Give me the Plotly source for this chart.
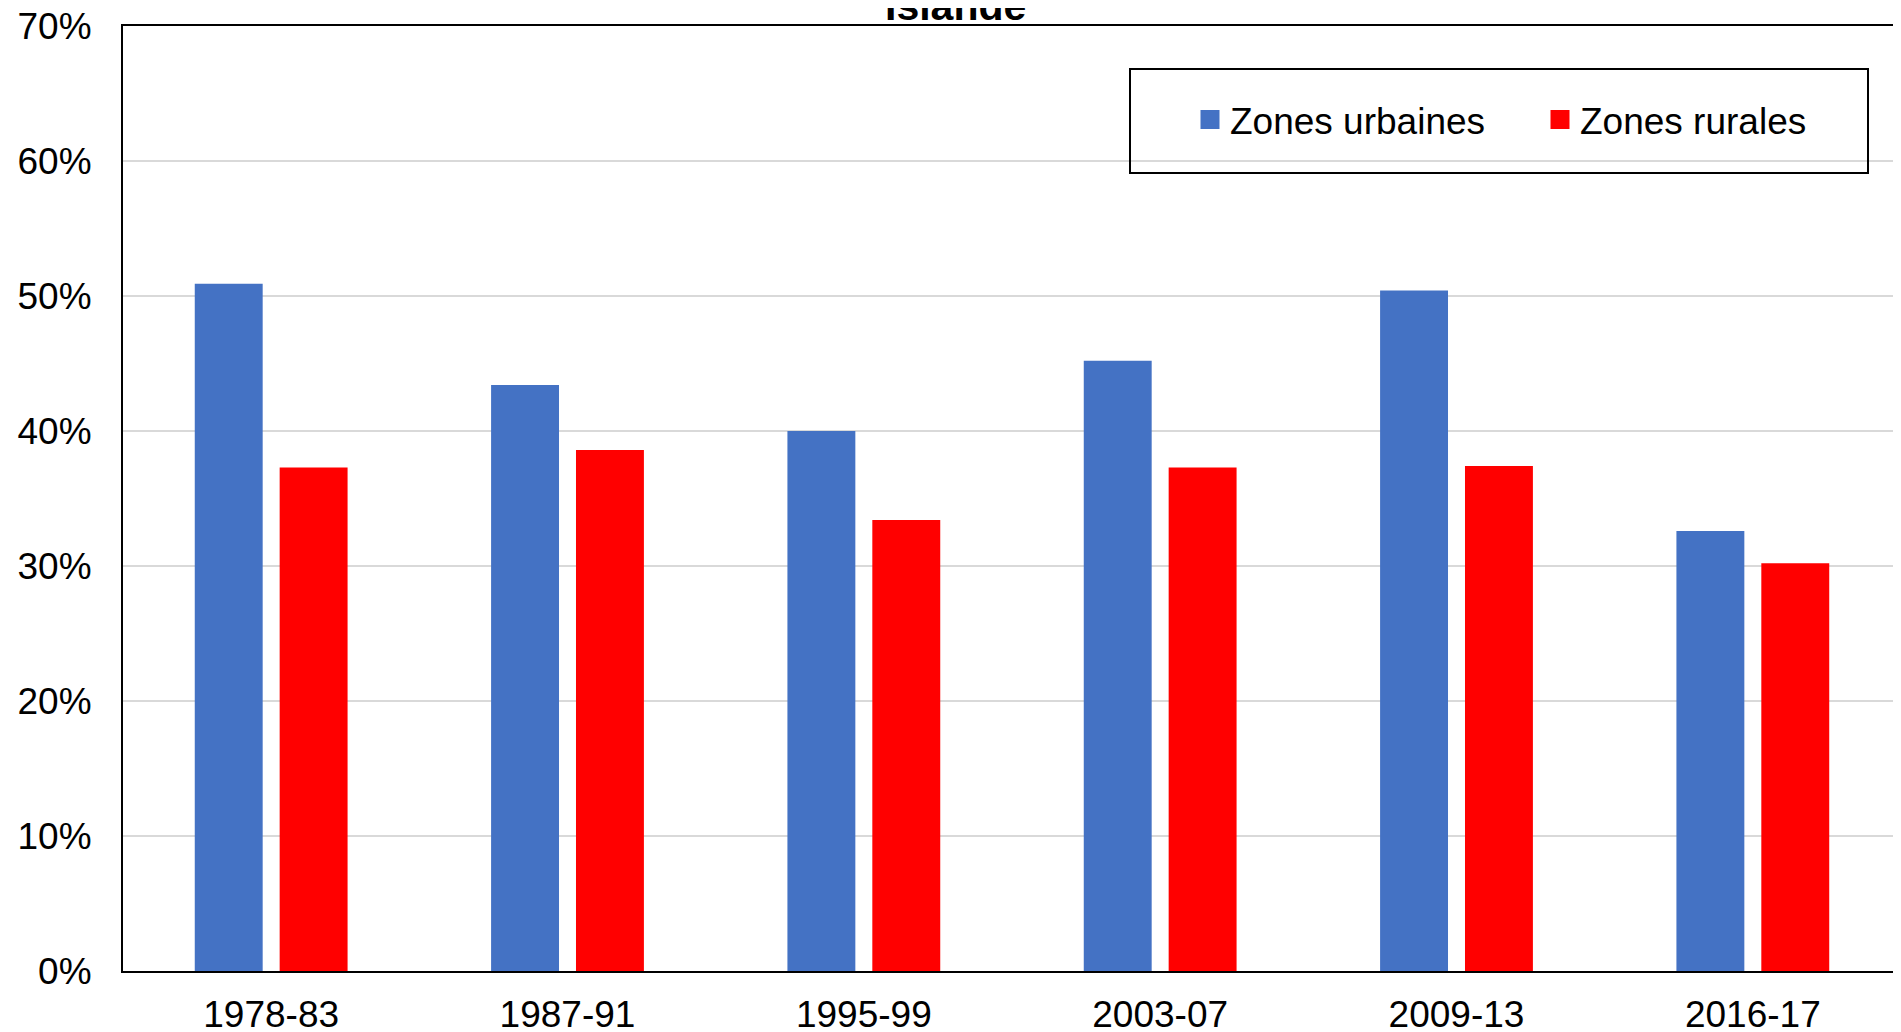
import plotly.graph_objects as go

categories = ["1978-83", "1987-91", "1995-99", "2003-07", "2009-13", "2016-17"]
urbaines = [0.509, 0.434, 0.400, 0.452, 0.504, 0.326]
rurales = [0.373, 0.386, 0.334, 0.373, 0.374, 0.302]
series_names = ["Zones urbaines", "Zones rurales"]
colors = ["#4472C4", "#FF0000"]
y_ticks = [0, 0.1, 0.2, 0.3, 0.4, 0.5, 0.6, 0.7]
title_text = "Islande"

FONT = "Liberation Sans, Arial, sans-serif"

fig = go.Figure()
for name, vals, col in zip(series_names, [urbaines, rurales], colors):
    fig.add_trace(go.Bar(x=categories, y=vals, name=name, marker_color=col,
                         marker_line_width=0, showlegend=False))
for name, col in zip(series_names, colors):
    fig.add_trace(go.Scatter(x=[categories[0]], y=[None], mode="markers", name=name,
                             marker=dict(symbol="square", size=16, color=col,
                                         line=dict(color=col, width=3))))

# page body has an 8px margin: figure coordinates = page coordinates - 8
OFF = 8
W, H = 1901, 1032
L, T = 123 - OFF, 26 - OFF
R = OFF
B = H - (971 - OFF)
pw = W - L - R
ph = H - T - B


def px_x(page_x):
    return (page_x - OFF - L) / pw


def px_y(page_y):
    return 1 - (page_y - OFF - T) / ph


fig.update_layout(
    width=W, height=H,
    margin=dict(l=L, r=R, t=T, b=B, autoexpand=False),
    paper_bgcolor="white", plot_bgcolor="white",
    font=dict(family=FONT, size=37, color="black"),
    barmode="group", bargap=0.427, bargroupgap=0.2,
    showlegend=True,
    legend=dict(orientation="h", x=px_x(1190), y=px_y(89),
                xanchor="left", yanchor="top", bgcolor="rgba(0,0,0,0)",
                borderwidth=0, font=dict(size=37), entrywidth=305,
                itemsizing="trace"),
    xaxis=dict(type="category", range=[-0.5, 5.5], showline=True, linecolor="black",
               linewidth=2, mirror=True, ticks="", showgrid=False, automargin=False,
               ticklabelstandoff=10, ticklabeloverflow="allow", tickfont=dict(size=37)),
    yaxis=dict(range=[0, 0.7], tickvals=y_ticks, tickformat=".0%", showline=True,
               linecolor="black", linewidth=2, ticks="", showgrid=True, automargin=False,
               gridcolor="#D9D9D9", gridwidth=1.5, ticklabelstandoff=22,
               ticklabeloverflow="allow", tickfont=dict(size=37), zeroline=False),
    annotations=[dict(text="<b>" + title_text + "</b>", xref="paper", yref="paper",
                      x=px_x(955), y=1, xanchor="center", yanchor="bottom",
                      yshift=-5, showarrow=False, font=dict(size=41, family=FONT))],
    shapes=[
        dict(type="rect", xref="paper", yref="paper",
             x0=px_x(1130), x1=px_x(1868), y0=px_y(173), y1=px_y(69),
             line=dict(color="black", width=2), fillcolor="rgba(0,0,0,0)"),
        dict(type="line", xref="paper", yref="paper", x0=1, x1=1, y0=0, y1=1,
             line=dict(color="#D9D9D9", width=2)),
    ],
)

fig.write_html("out.html")
